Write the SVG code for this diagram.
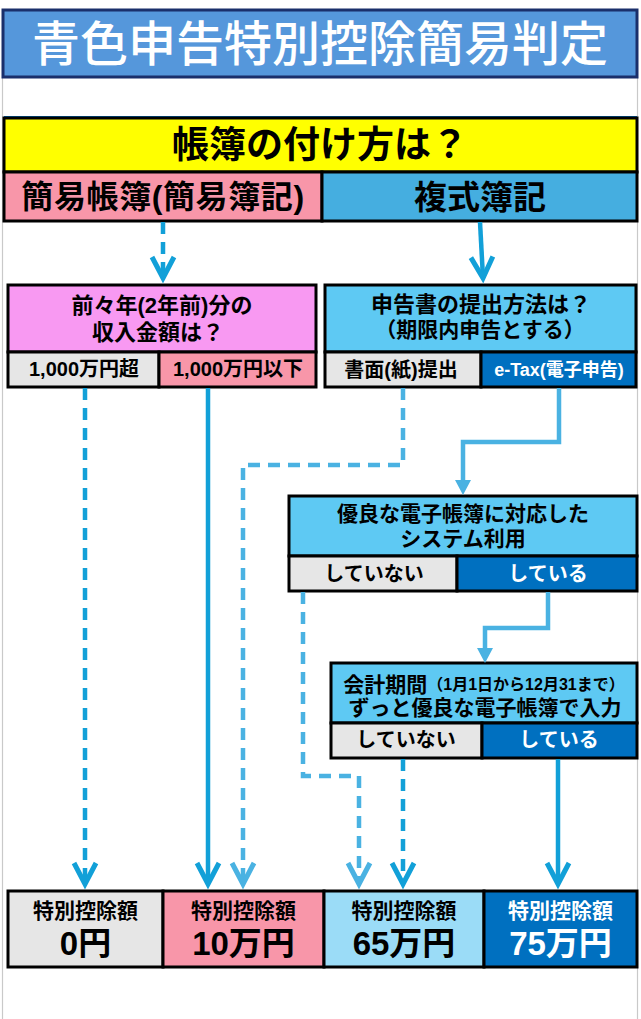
<svg xmlns="http://www.w3.org/2000/svg" width="641" height="1019" viewBox="0 0 641 1019">
<style>
.t{font-family:"Liberation Sans","Noto Sans CJK JP",sans-serif;font-weight:bold;text-anchor:middle;dominant-baseline:central;fill:#000}
.w{fill:#fff}
.box{stroke:#000;stroke-width:3}
.gray{fill:#e6e6e6}.pink{fill:#f896a9}.violet{fill:#f899f2}.lblue{fill:#5ec9f3}.dblue{fill:#0070c0}.pblue{fill:#9bdcf7}
.ln{fill:none;stroke-width:4.5}
.dk{stroke:#12a0d8}.lt{stroke:#4ab2e2}
.ds{stroke-dasharray:12 8}
</style>
<defs>
<marker id="chevD" viewBox="-28 -16 34 32" markerWidth="34" markerHeight="32" refX="0" refY="0" orient="auto" markerUnits="userSpaceOnUse"><path d="M-21,-11 L0,0 L-21,11" fill="none" stroke="#12a0d8" stroke-width="5"/></marker>
<marker id="chevL" viewBox="-28 -16 34 32" markerWidth="34" markerHeight="32" refX="0" refY="0" orient="auto" markerUnits="userSpaceOnUse"><path d="M-21,-11 L0,0 L-21,11" fill="none" stroke="#4ab2e2" stroke-width="5"/></marker>
<marker id="tri" viewBox="-2 -10 20 20" markerWidth="20" markerHeight="20" refX="0" refY="0" orient="auto" markerUnits="userSpaceOnUse"><path d="M0,-8 L15,0 L0,8 Z" fill="#4ab2e2"/></marker>
</defs>
<rect x="0" y="0" width="641" height="1019" fill="#fff"/>
<g id="frame" stroke="#c9c9c9" stroke-width="1.2">
<line x1="2.5" y1="77" x2="2.5" y2="1019"/>
<line x1="637.5" y1="77" x2="637.5" y2="1019"/>
</g>
<g id="title">
<rect x="3" y="10" width="634" height="67" fill="#5597db" stroke="#1a2f6b" stroke-width="3"/>
<text class="t w" x="320" y="44" font-size="48" style="font-weight:500">青色申告特別控除簡易判定</text>
</g>
<line x1="4" y1="117" x2="637" y2="117" stroke="#0070c0" stroke-width="2"/>
<g id="q-book">
<rect class="box" x="4" y="118" width="633" height="54" fill="#ffff00"/>
<text class="t" x="320" y="145" font-size="37">帳簿の付け方は？</text>
</g>
<g id="simple">
<rect class="box pink" x="4" y="172" width="318" height="49"/>
<text class="t" x="163" y="197" font-size="32" letter-spacing="0.6">簡易帳簿(簡易簿記)</text>
</g>
<g id="double">
<rect class="box" x="322" y="172" width="315" height="49" fill="#45aee0"/>
<text class="t" x="480" y="197" font-size="33">複式簿記</text>
</g>
<g id="q-income">
<rect class="box violet" x="8" y="285" width="308" height="67"/>
<text class="t" x="162" y="305" font-size="22">前々年(2年前)分の</text>
<text class="t" x="158" y="332" font-size="22">収入金額は？</text>
<rect class="box gray" x="8" y="352" width="151" height="35"/>
<text class="t" x="84" y="369" font-size="20">1,000万円超</text>
<rect class="box pink" x="159" y="352" width="157" height="35"/>
<text class="t" x="238" y="369" font-size="20">1,000万円以下</text>
</g>
<g id="q-filing">
<rect class="box lblue" x="325" y="285" width="311" height="67"/>
<text class="t" x="481" y="304" font-size="22">申告書の提出方法は？</text>
<text class="t" x="480" y="329" font-size="21">（期限内申告とする）</text>
<rect class="box gray" x="325" y="352" width="156" height="35"/>
<text class="t" x="401" y="370" font-size="20">書面(紙)提出</text>
<rect class="box dblue" x="481" y="352" width="155" height="35"/>
<text class="t w" x="559" y="370" font-size="18">e-Tax(電子申告)</text>
</g>
<g id="q-system">
<rect class="box lblue" x="289" y="496" width="348" height="60"/>
<text class="t" x="463" y="513" font-size="21">優良な電子帳簿に対応した</text>
<text class="t" x="463" y="538" font-size="21">システム利用</text>
<rect class="box gray" x="289" y="556" width="168" height="35"/>
<text class="t" x="374" y="574" font-size="20">していない</text>
<rect class="box dblue" x="457" y="556" width="180" height="35"/>
<text class="t w" x="548" y="574" font-size="20">している</text>
</g>
<g id="q-period">
<rect class="box lblue" x="331" y="663" width="306" height="60"/>
<text class="t" x="484" y="684" font-size="21">会計期間<tspan font-size="16">（1月1日から12月31まで）</tspan></text>
<text class="t" x="485" y="707" font-size="21">ずっと優良な電子帳簿で入力</text>
<rect class="box gray" x="331" y="723" width="151" height="35"/>
<text class="t" x="406" y="740" font-size="20">していない</text>
<rect class="box dblue" x="482" y="723" width="155" height="35"/>
<text class="t w" x="559" y="740" font-size="20">している</text>
</g>
<g id="connectors">
<path class="ln dk ds" d="M163,222 V278" marker-end="url(#chevD)"/>
<path class="ln dk" d="M480,222 L483,278" marker-end="url(#chevD)"/>
<path class="ln dk ds" d="M85,388 V884" marker-end="url(#chevD)"/>
<path class="ln dk" d="M208,388 V884" marker-end="url(#chevD)"/>
<path class="ln lt ds" d="M403,388 V465 H243 V884" marker-end="url(#chevL)"/>
<path class="ln lt" d="M559,388 V442 H463 V480" marker-end="url(#tri)"/>
<path class="ln lt ds" d="M303,592 V776 H359 V884" marker-end="url(#chevL)"/>
<path class="ln lt" d="M548,592 V628 H485 V648" marker-end="url(#tri)"/>
<path class="ln dk ds" d="M403,759 V884" marker-end="url(#chevD)"/>
<path class="ln dk" d="M558,759 V884" marker-end="url(#chevD)"/>
</g>
<g id="r0">
<rect class="box gray" x="8" y="891" width="155" height="76"/>
<text class="t" x="85.5" y="910" font-size="21">特別控除額</text>
<text class="t" x="85.5" y="943" font-size="33">0円</text>
</g>
<g id="r10">
<rect class="box pink" x="163" y="891" width="161" height="76"/>
<text class="t" x="243.5" y="910" font-size="21">特別控除額</text>
<text class="t" x="243.5" y="943" font-size="33">10万円</text>
</g>
<g id="r65">
<rect class="box pblue" x="324" y="891" width="160" height="76"/>
<text class="t" x="404" y="910" font-size="21">特別控除額</text>
<text class="t" x="404" y="943" font-size="33">65万円</text>
</g>
<g id="r75">
<rect class="box dblue" x="484" y="891" width="153" height="76"/>
<text class="t w" x="560.5" y="910" font-size="21">特別控除額</text>
<text class="t w" x="560.5" y="943" font-size="33">75万円</text>
</g>
</svg>
